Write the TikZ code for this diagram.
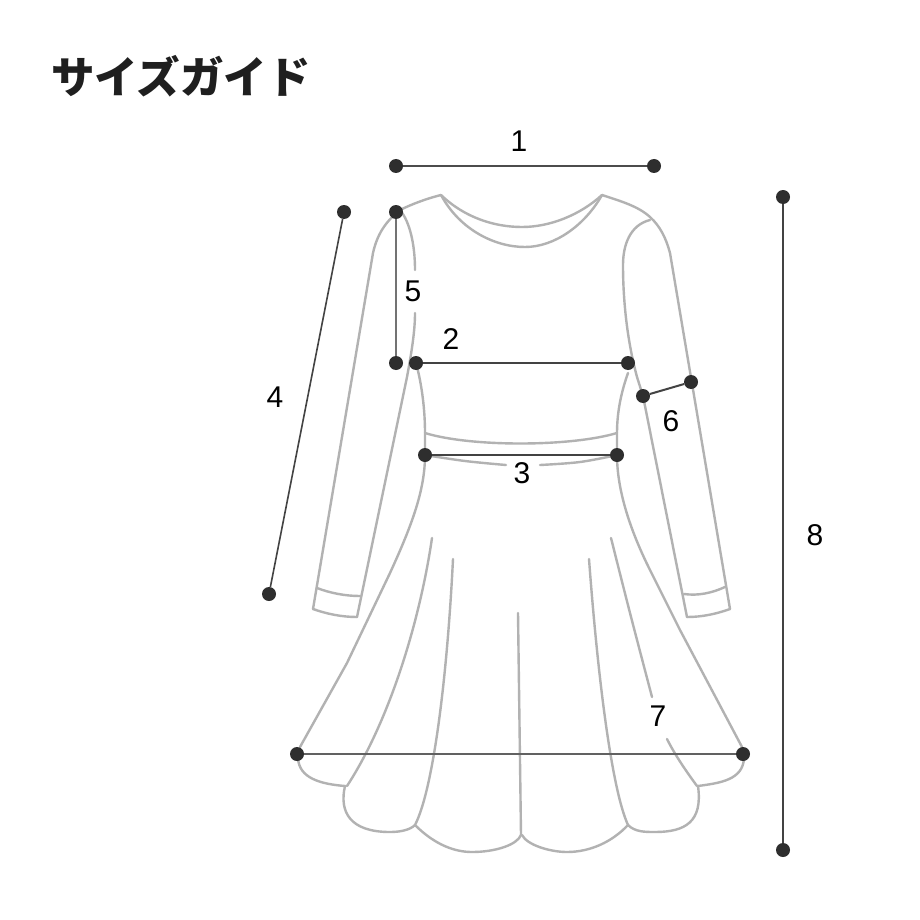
\documentclass[tikz,border=0pt]{standalone}
\usepackage{fontspec}
\setmainfont{Liberation Sans}
\newfontfamily\cjkfont{Noto Sans CJK JP}
\tikzset{
  garment/.style={draw=garmentgrey,line width=2.4pt,line join=round,line cap=round},
  soft/.style={smooth,tension=0.6},
  dot/.style={circle,fill=dotdark,inner sep=0pt,minimum size=14pt},
  measure/.style={draw=dotdark!90,line width=2pt},
  num/.style={inner sep=0pt,font=\fontsize{30}{30}\selectfont,text=black},
}
\definecolor{garmentgrey}{HTML}{B2B2B2}
\definecolor{dotdark}{HTML}{2E2E2E}
\begin{document}
\begin{tikzpicture}[x=1pt,y=-1pt]
\useasboundingbox (0,0) rectangle (920,920);
\fill[white] (0,0) rectangle (920,920);
\node[anchor=west,inner sep=0pt,text=black!88] (title) at (51,76) {\fontsize{43.5}{43.5}\selectfont\cjkfont\bfseries サイズガイド};
% neckline
\draw[garment] (441,195) .. controls (465,218) and (495,227) .. (522,227) .. controls (550,227) and (580,215) .. (602,195);
\draw[garment] (441,195) .. controls (460,230) and (495,247) .. (525,247) .. controls (555,247) and (585,225) .. (602,195);
% left shoulder, sleeve
\draw[garment] (441,195) .. controls (425,199) and (410,205) .. (400,210);
\draw[garment] (400,210) .. controls (385,222) and (377,235) .. (373,253) -- (313,609);
\draw[garment] (313,609) .. controls (327,614) and (342,617) .. (357,617);
\draw[garment] (317,588) .. controls (330,593) and (345,596) .. (360,596);
\draw[garment] (357,617) -- (407,377) .. controls (412,350) and (415,330) .. (415,313);
\draw[garment] (415,270) .. controls (415,245) and (410,222) .. (400,210);
% left body
\draw[garment] (416,363) .. controls (422,385) and (425,410) .. (425,433) -- (425,455) .. controls (425,490) and (412,525) .. (390,573) -- (347,663) -- (300,747);
% hem
\draw[garment] (298,758) .. controls (299,778) and (320,784) .. (345,786);
\draw[garment] (345,786) .. controls (339,812) and (350,832) .. (390,832) .. controls (400,832) and (410,830) .. (415,825);
\draw[garment] (415,825) .. controls (435,845) and (455,852) .. (472,852) .. controls (495,852) and (517,845) .. (521,835);
\draw[garment] (522,835) .. controls (527,845) and (550,852) .. (567,852) .. controls (590,852) and (612,842) .. (628,825);
\draw[garment] (628,825) .. controls (635,832) and (645,832) .. (655,832) .. controls (685,832) and (703,822) .. (698,786);
\draw[garment] (698,786) .. controls (720,783) and (743,780) .. (744,758);
% right body
\draw[garment] (742,747) -- (680,630) -- (650,570) .. controls (630,530) and (617,490) .. (617,455) -- (617,433) .. controls (617,410) and (622,390) .. (628,373);
% right sleeve
\draw[garment] (650,220) .. controls (630,225) and (623,245) .. (623,265) .. controls (623,300) and (627,340) .. (637,377) -- (643,396) -- (687,617);
\draw[garment] (687,617) .. controls (702,617) and (716,614) .. (730,609);
\draw[garment] (684,594) .. controls (698,596) and (712,593) .. (725,587);
\draw[garment] (730,609) -- (670,253) .. controls (666,238) and (660,226) .. (650,217) .. controls (638,206) and (620,201) .. (602,195);
% folds
\draw[garment] (432,538) .. controls (420,620) and (390,720) .. (347,786);
\draw[garment] (453,559) .. controls (447,680) and (433,790) .. (415,825);
\draw[garment] (518,613) -- (521,835);
\draw[garment] (589,559) .. controls (598,680) and (612,790) .. (628,825);
\draw[garment] plot[soft] coordinates {(611,538) (630,613) (652,697)};
\draw[garment] (667,739) .. controls (675,755) and (686,771) .. (697,786);
% waist
\draw[garment] (425,433) .. controls (470,447) and (570,447) .. (617,433);
\draw[garment] plot[soft] coordinates {(425,455) (465,461) (506,465)};
\draw[garment] plot[soft] coordinates {(540,465) (580,462) (617,455)};
% measuring points
\node[dot] (a1) at (396,166) {};
\node[dot] (b1) at (654,166) {};
\node[dot] (a2) at (416,363) {};
\node[dot] (b2) at (628,363) {};
\node[dot] (a3) at (425,455) {};
\node[dot] (b3) at (617,455) {};
\node[dot] (a4) at (344,212) {};
\node[dot] (b4) at (269,594) {};
\node[dot] (a5) at (396,212) {};
\node[dot] (b5) at (396,363) {};
\node[dot] (a6) at (643,396) {};
\node[dot] (b6) at (691,382) {};
\node[dot] (a7) at (297,754) {};
\node[dot] (b7) at (743,754) {};
\node[dot] (a8) at (783,197) {};
\node[dot] (b8) at (783,850) {};
% measures
\draw[measure,draw=black!70] (a1) -- (b1);
\draw[measure] (a2) -- (b2);
\draw[measure] (a3) -- (b3);
\draw[measure,line width=1.6pt] (a4) -- (b4);
\draw[measure,draw=black!55,line width=2.8pt] (a5) -- (b5);
\draw[measure] (a6) -- (b6);
\draw[measure,draw=black!62] (a7) -- (b7);
\draw[measure] (a8) -- (b8);
% numbers
\node[num] (n1) at (519,141) {1};
\node[num] (n2) at (451,339) {2};
\node[num] (n3) at (522,473) {3};
\node[num] (n4) at (275,397) {4};
\node[num] (n5) at (413,291) {5};
\node[num] (n6) at (671,421) {6};
\node[num] (n7) at (658,716) {7};
\node[num] (n8) at (815,535) {8};
\end{tikzpicture}
\end{document}
